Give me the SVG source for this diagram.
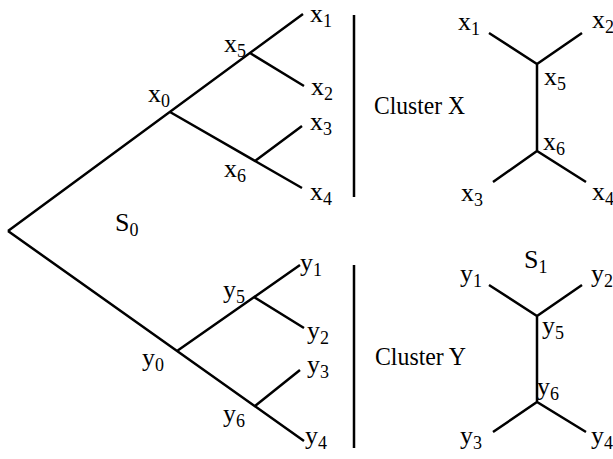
<svg xmlns="http://www.w3.org/2000/svg" width="613" height="459" viewBox="0 0 613 459">
<style>
text{font-family:'Liberation Serif','Times New Roman',serif;font-size:26px;fill:#000}
.s{font-size:18px}
.c{font-size:25px}
.e{stroke:#000;stroke-width:2.5;fill:none;stroke-linecap:butt}
</style>
<rect width="613" height="459" fill="#fff"/>
<g id="connectors">
<path class="e" d="M8,231 L303,14 M250,53 L304,86 M170,112 L302,188 M255,161 L302,126"/>
<path class="e" d="M8,231 L304,441 M177,351 L300,265 M254,297 L304,328 M255,406 L300,370"/>
<path class="e" d="M354,15 V197 M354,265 V448"/>
<path class="e" d="M489,33 L537,64 L582,33 M537,64 V151 M493,182 L537,151 L586,182"/>
<path class="e" d="M489,285 L537,316 L582,285 M537,316 V402 M493,432 L537,402 L586,432"/>
</g>
<g id="S0"><text x="115" y="231">S<tspan class="s" dy="5">0</tspan></text></g>
<g id="S1"><text x="524" y="268">S<tspan class="s" dy="5">1</tspan></text></g>
<g id="clusterX"><text class="c" x="374" y="114" textLength="91" lengthAdjust="spacingAndGlyphs">Cluster X</text></g>
<g id="clusterY"><text class="c" x="375" y="365" textLength="91" lengthAdjust="spacingAndGlyphs">Cluster Y</text></g>
<g id="L_x0"><text x="148" y="102">x<tspan class="s" dy="5">0</tspan></text></g>
<g id="L_x1"><text x="310" y="22">x<tspan class="s" dy="5">1</tspan></text></g>
<g id="L_x2"><text x="311" y="95">x<tspan class="s" dy="5">2</tspan></text></g>
<g id="L_x3"><text x="310" y="130">x<tspan class="s" dy="5">3</tspan></text></g>
<g id="L_x4"><text x="310" y="200">x<tspan class="s" dy="5">4</tspan></text></g>
<g id="L_x5"><text x="224" y="52">x<tspan class="s" dy="5">5</tspan></text></g>
<g id="L_x6"><text x="224" y="177">x<tspan class="s" dy="5">6</tspan></text></g>
<g id="L_y0"><text x="142" y="366">y<tspan class="s" dy="5">0</tspan></text></g>
<g id="L_y1"><text x="300" y="271">y<tspan class="s" dy="5">1</tspan></text></g>
<g id="L_y2"><text x="307" y="339">y<tspan class="s" dy="5">2</tspan></text></g>
<g id="L_y3"><text x="307" y="373">y<tspan class="s" dy="5">3</tspan></text></g>
<g id="L_y4"><text x="305" y="444">y<tspan class="s" dy="5">4</tspan></text></g>
<g id="L_y5"><text x="223" y="298">y<tspan class="s" dy="5">5</tspan></text></g>
<g id="L_y6"><text x="223" y="422">y<tspan class="s" dy="5">6</tspan></text></g>
<g id="R_x1"><text x="458" y="30">x<tspan class="s" dy="5">1</tspan></text></g>
<g id="R_x2"><text x="592" y="28">x<tspan class="s" dy="5">2</tspan></text></g>
<g id="R_x5"><text x="544" y="85">x<tspan class="s" dy="5">5</tspan></text></g>
<g id="R_x6"><text x="543" y="150">x<tspan class="s" dy="5">6</tspan></text></g>
<g id="R_x3"><text x="461" y="201">x<tspan class="s" dy="5">3</tspan></text></g>
<g id="R_x4"><text x="592" y="200">x<tspan class="s" dy="5">4</tspan></text></g>
<g id="R_y1"><text x="460" y="282">y<tspan class="s" dy="5">1</tspan></text></g>
<g id="R_y2"><text x="591" y="282">y<tspan class="s" dy="5">2</tspan></text></g>
<g id="R_y5"><text x="542" y="334">y<tspan class="s" dy="5">5</tspan></text></g>
<g id="R_y6"><text x="537" y="395">y<tspan class="s" dy="5">6</tspan></text></g>
<g id="R_y3"><text x="460" y="444">y<tspan class="s" dy="5">3</tspan></text></g>
<g id="R_y4"><text x="591" y="444">y<tspan class="s" dy="5">4</tspan></text></g>
</svg>
